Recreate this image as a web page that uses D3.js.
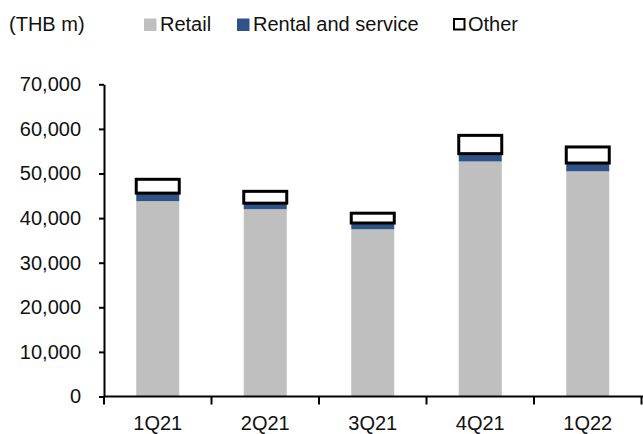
<!DOCTYPE html>
<html>
<head>
<meta charset="utf-8">
<script src="https://cdn.jsdelivr.net/npm/d3@7"></script>
<style>
body { margin: 0; background: #fff; }
text { font-family: Arial, "Liberation Sans", sans-serif; fill: #111; }
</style>
</head>
<body>
<script>
// quarters and values in THB m
var quarters = ['1Q21', '2Q21', '3Q21', '4Q21', '1Q22'];
var retail   = [43800, 42000, 37500, 52700, 50500];
var rental   = [1800, 1350, 1400, 1750, 1850];
var other    = [3100, 2650, 2200, 4100, 3600];
var yTicks   = [0, 10000, 20000, 30000, 40000, 50000, 60000, 70000];
var seriesNames = ['Retail', 'Rental and service', 'Other'];

var width = 643, height = 434;
var plotLeft = 104, plotRight = 641.5, plotTop = 84.3, plotBottom = 396.5;

var svg = d3.select('body').append('svg')
	.attr('width', width)
	.attr('height', height);

var x = d3.scaleBand()
	.domain(quarters)
	.range([plotLeft, plotRight])
	.paddingInner(0.6)
	.paddingOuter(0.3);

var y = d3.scaleLinear()
	.domain([0, 70000])
	.range([plotBottom, plotTop]);

var rows = quarters.map(function(q, i) {
	return {q: q, Retail: retail[i], 'Rental and service': rental[i], Other: other[i]};
});
var stacked = d3.stack().keys(seriesNames)(rows);

var fills = {'Retail': '#bfbfbf', 'Rental and service': '#2f5387', 'Other': '#ffffff'};

// retail + rental first, other on top with its outline
stacked.forEach(function(layer) {
	var k = layer.key;
	svg.append('g').selectAll('rect')
		.data(layer)
		.enter().append('rect')
			.attr('x', function(d) { return x(d.data.q); })
			.attr('width', x.bandwidth())
			.attr('y', function(d) { return y(d[1]); })
			.attr('height', function(d) { return y(d[0]) - y(d[1]); })
			.style('fill', fills[k])
			.style('stroke', k == 'Other' ? '#000' : 'none')
			.style('stroke-width', k == 'Other' ? 3 : 0);
});

// y axis
var yAxis = svg.append('g')
	.attr('transform', 'translate(' + plotLeft + ',0)')
	.call(d3.axisLeft(y).tickValues(yTicks).tickFormat(d3.format(',')).tickSize(5).tickSizeOuter(0).tickPadding(18));

// x axis: labels in the middle, ticks between bars
var step = x.step();
var xAxis = svg.append('g')
	.attr('transform', 'translate(0,' + plotBottom + ')')
	.call(d3.axisBottom(x).tickSize(0).tickSizeOuter(0).tickPadding(19));

var bounds = quarters.map(function(q) { return x(q) - step * 0.3; });
bounds.push(x(quarters[quarters.length - 1]) + x.bandwidth() + step * 0.3);
xAxis.selectAll('line.sep')
	.data(bounds)
	.enter().append('line')
		.attr('class', 'sep')
		.attr('x1', function(d) { return d; })
		.attr('x2', function(d) { return d; })
		.attr('y1', 0)
		.attr('y2', 8)
		.style('stroke', '#000')
		.style('stroke-width', 2);

xAxis.select('.domain').attr('d', 'M' + plotLeft + ',0H' + (plotRight + 1.5));

[yAxis, xAxis].forEach(function(a) {
	a.selectAll('.domain, .tick line').style('stroke', '#000').style('stroke-width', 2);
	a.selectAll('text').style('font-size', '20px').style('fill', '#111').style('font-family', 'Arial, "Liberation Sans", sans-serif');
});

// title + legend
svg.append('text')
	.attr('x', 9)
	.attr('y', 31)
	.style('font-size', '20px')
	.text('(THB m)');

var legendX = [144, 237, 453];
var legend = svg.selectAll('g.leg')
	.data(seriesNames)
	.enter().append('g')
		.attr('class', 'leg')
		.attr('transform', function(d, i) { return 'translate(' + legendX[i] + ',0)'; });

legend.append('rect')
	.attr('x', function(d) { return d == 'Other' ? 1 : 0; })
	.attr('y', function(d) { return d == 'Other' ? 19 : 18.5; })
	.attr('width', function(d) { return d == 'Other' ? 10.5 : 12.5; })
	.attr('height', function(d) { return d == 'Other' ? 10.5 : 12.5; })
	.style('fill', function(d) { return fills[d]; })
	.style('stroke', function(d) { return d == 'Other' ? '#000' : 'none'; })
	.style('stroke-width', 2);

legend.append('text')
	.attr('x', function(d) { return d == 'Other' ? 15 : 16; })
	.attr('y', 31)
	.style('font-size', '20px')
	.text(function(d) { return d; });
</script>
</body>
</html>
